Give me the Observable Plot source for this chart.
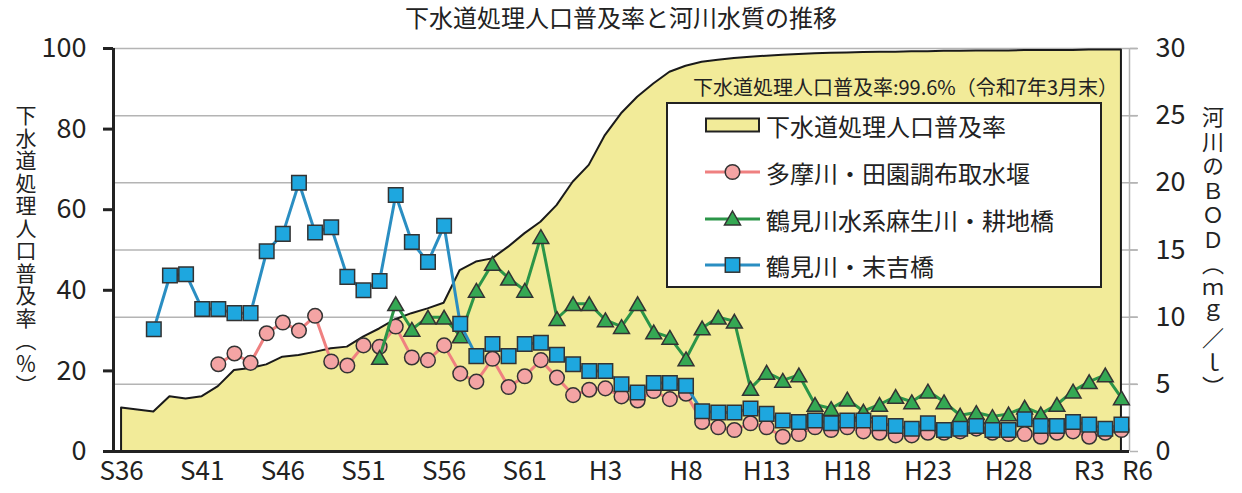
<!DOCTYPE html>
<html><head><meta charset="utf-8">
<script src="https://cdn.jsdelivr.net/npm/d3@7"></script>
<script src="https://cdn.jsdelivr.net/npm/@observablehq/plot@0.6"></script>
<style>
body{margin:0;background:#fff;font-family:"Noto Sans CJK JP","Noto Sans",sans-serif;color:#222;}
#wrap{position:relative;width:1242px;height:493px;overflow:hidden;}
#wrap > svg{position:absolute;left:0;top:0;}
.abs{position:absolute;white-space:nowrap;}
#title{left:0;width:1242px;top:2px;text-align:center;font-size:24px;line-height:30px;}
#note{right:124px;top:73px;font-size:20px;line-height:28px;}
#legend{left:666px;top:102px;width:436px;height:186px;box-sizing:border-box;border:2px solid #222;background:#fff;}
.li{position:absolute;left:37px;height:30px;display:flex;align-items:center;font-size:24px;}
.li svg{margin-right:6px;flex:none;}
.vt{writing-mode:vertical-rl;text-orientation:mixed;}
#ytl{left:14px;top:105px;font-size:21px;line-height:24px;letter-spacing:1.5px;}
#ytr{left:1200px;top:106px;font-size:22px;line-height:26px;letter-spacing:2.5px;}
</style></head><body><div id="wrap"></div>
<script>
// x categories (years) and tick labels
const years = d3.range(1961, 2024);
const tickYears = [1961,1966,1971,1976,1981,1986,1991,1996,2001,2006,2011,2016,2021,2024];
const tickLabels = ["S36","S41","S46","S51","S56","S61","H3","H8","H13","H18","H23","H28","R3","R6"];
const leftTicks = [0,20,40,60,80,100];
const rightTicks = [0,5,10,15,20,25,30];

// 下水道処理人口普及率 (%), 1961–2023
const coverage = [10.8,10.3,9.8,13.6,13.0,13.6,16.1,20.1,20.6,21.5,
  23.4,23.8,24.6,25.5,25.9,28.4,30.4,32.7,34.2,35.4,
  36.8,44.9,47.0,47.8,50.7,54.0,56.9,61.0,66.8,71.0,
  78.4,83.8,87.9,91.2,94.1,95.6,96.6,97.1,97.5,97.8,
  98.1,98.3,98.5,98.7,98.8,98.9,99.0,99.1,99.1,99.2,
  99.2,99.3,99.3,99.4,99.4,99.4,99.5,99.5,99.5,99.5,
  99.6,99.6,99.6];

// 多摩川・田園調布取水堰 BOD (mg/l), from 1967
const tamaStart = 1967;
const tamaBOD = [6.5,7.3,6.6,8.8,9.6,9.0,10.1,6.7,6.4,7.9,
  7.8,9.3,7.0,6.8,7.9,5.8,5.2,6.9,4.8,5.6,
  6.8,5.5,4.2,4.6,4.7,4.1,3.8,4.5,3.9,4.3,
  2.2,1.8,1.6,2.1,1.8,1.1,1.3,1.8,1.6,1.8,
  1.5,1.4,1.2,1.2,1.4,1.4,1.5,1.7,1.4,1.3,
  1.3,1.1,1.4,1.5,1.1,1.4,1.6];

// 鶴見川水系麻生川・耕地橋 BOD, from 1977
const asoStart = 1977;
const asoBOD = [7.0,11.0,9.1,10.0,10.0,8.6,12.0,14.0,12.9,12.0,
  16.0,9.9,11.0,11.0,9.8,9.3,11.0,8.9,8.5,6.9,
  9.2,10.0,9.7,4.7,5.9,5.3,5.7,3.5,3.2,3.9,
  3.0,3.5,4.1,3.7,4.5,3.7,2.7,2.9,2.6,2.8,
  3.3,2.8,3.5,4.5,5.2,5.7,4.0];

// 鶴見川・末吉橋 BOD, from 1963
const sueStart = 1963;
const sueBOD = [9.1,13.1,13.2,10.6,10.6,10.3,10.3,14.9,16.2,20.0,
  16.3,16.7,13.0,12.0,12.7,19.1,15.6,14.1,16.8,9.5,
  7.1,8.0,7.1,8.0,8.1,7.2,6.5,6.0,6.0,5.0,
  4.4,5.1,5.1,4.9,3.0,2.9,2.9,3.2,2.8,2.3,
  2.2,2.3,2.1,2.3,2.3,2.1,1.9,1.7,2.1,1.6,
  1.7,1.9,1.6,1.6,2.4,1.9,1.9,2.2,2.0,1.7,
  2.0];

const C = {
  area:"#f2eb99", tamaLine:"#ef8080", tamaDot:"#f4a4a4",
  asoLine:"#2b9548", asoDot:"#35a853", sueLine:"#2a8ec2", sueDot:"#1ea7df",
  axis:"#222", grid:"#b4b4b4"
};

const toPct = b => b * 100 / 30;
const xStart = years[0] - 0.5, xEnd = years[years.length-1] + 0.5;
const covRows = years.map((y,i)=>({year:y, v:coverage[i]}));
const series = (start, arr) => arr.map((b,i)=>({year:start+i, p:toPct(b)}));
const tama = series(tamaStart, tamaBOD);
const aso = series(asoStart, asoBOD);
const sue = series(sueStart, sueBOD);
const labelOf = new Map(tickYears.map((y,i)=>[y, tickLabels[i]]));

const fam = '"Noto Sans CJK JP", "Noto Sans", sans-serif';
const chart = Plot.plot({
  width:1242, height:493,
  marginLeft:113, marginRight:113, marginTop:48, marginBottom:42,
  x:{domain:[xStart, xEnd], axis:null},
  y:{domain:[0,100], axis:null},
  style:{fontFamily:fam, background:"transparent", color:"#222", overflow:"visible"},
  marks:[
    Plot.ruleY(rightTicks.filter(d=>d>0).map(toPct), {x1:xStart, x2:xEnd+0.5, stroke:C.grid, strokeWidth:1.5}),
    Plot.areaY(covRows, {x:"year", y:"v", fill:C.area, stroke:"#1a1a1a", strokeWidth:2}),
    Plot.ruleX([xEnd], {stroke:C.grid, strokeWidth:1.5}),
    Plot.axisY(rightTicks.map(toPct), {anchor:"right", label:null, tickSize:8, tickPadding:18, stroke:C.grid, strokeWidth:1.5, fill:"#222",
      fontSize:27, tickFormat:d=>String(Math.round(d*0.3))}),
    Plot.axisY(leftTicks, {anchor:"left", label:null, tickSize:10, tickPadding:17, stroke:C.axis, strokeWidth:3, fill:"#222",
      fontSize:27, tickFormat:d=>String(d)}),
    Plot.ruleX([xStart], {stroke:C.axis, strokeWidth:3}),
    Plot.ruleY([0], {x1:xStart, x2:xEnd, stroke:C.axis, strokeWidth:3}),
    Plot.axisX(tickYears, {anchor:"bottom", label:null, tickSize:0, tickPadding:10, fontSize:26, fill:"#222",
      tickFormat:d=>labelOf.get(d)}),
    Plot.line(tama, {x:"year", y:"p", stroke:C.tamaLine, strokeWidth:3}),
    Plot.dot(tama, {x:"year", y:"p", r:7.3, fill:C.tamaDot, stroke:"#333", strokeWidth:1.5}),
    Plot.line(aso, {x:"year", y:"p", stroke:C.asoLine, strokeWidth:3}),
    Plot.dot(aso, {x:"year", y:"p", symbol:"triangle", r:5.9, dy:2.3, fill:C.asoDot, stroke:"#333", strokeWidth:1.5}),
    Plot.line(sue, {x:"year", y:"p", stroke:C.sueLine, strokeWidth:3}),
    Plot.dot(sue, {x:"year", y:"p", symbol:"square", r:8.2, fill:C.sueDot, stroke:"#333", strokeWidth:1.5})
  ]
});

const wrap = document.getElementById("wrap");
wrap.appendChild(chart);

function add(html){ wrap.insertAdjacentHTML("beforeend", html); }
add(`<div id="title" class="abs">下水道処理人口普及率と河川水質の推移</div>`);
add(`<div id="note" class="abs">下水道処理人口普及率:99.6%（令和7年3月末）</div>`);
add(`<div id="ytl" class="abs vt">下水道処理人口普及率（％）</div>`);
add(`<div id="ytr" class="abs vt">河川のＢＯＤ（ｍｇ／ｌ）</div>`);

const legendItems = [
  {label:"下水道処理人口普及率", kind:"area"},
  {label:"多摩川・田園調布取水堰", kind:"circle", line:C.tamaLine, fill:C.tamaDot},
  {label:"鶴見川水系麻生川・耕地橋", kind:"triangle", line:C.asoLine, fill:C.asoDot},
  {label:"鶴見川・末吉橋", kind:"square", line:C.sueLine, fill:C.sueDot}
];
const rowTops = [6, 53, 100, 146];
function swatch(it){
  const w=55,h=22,cx=27.5,cy=11;
  let s = `<svg width="${w}" height="${h}">`;
  if(it.kind==="area"){
    s += `<rect x="1" y="4.5" width="53" height="13" fill="${C.area}" stroke="#222" stroke-width="2"/>`;
  } else {
    s += `<line x1="0" x2="${w}" y1="${cy}" y2="${cy}" stroke="${it.line}" stroke-width="3"/>`;
    if(it.kind==="circle") s += `<circle cx="${cx}" cy="${cy}" r="7.3" fill="${it.fill}" stroke="#333" stroke-width="1.5"/>`;
    if(it.kind==="triangle") s += `<path d="M${cx},${cy-8} L${cx+8},${cy+6} L${cx-8},${cy+6}Z" fill="${it.fill}" stroke="#333" stroke-width="1.5"/>`;
    if(it.kind==="square") s += `<rect x="${cx-7.2}" y="${cy-7.2}" width="14.4" height="14.4" fill="${it.fill}" stroke="#333" stroke-width="1.5"/>`;
  }
  return s + `</svg>`;
}
add(`<div id="legend" class="abs">${legendItems.map((it,i)=>`<div class="li" style="top:${rowTops[i]}px">${swatch(it)}<span>${it.label}</span></div>`).join("")}</div>`);
</script>
</body></html>
